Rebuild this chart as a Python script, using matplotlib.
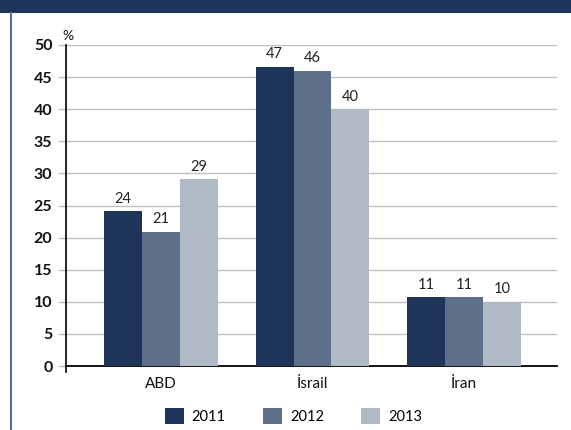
import matplotlib
matplotlib.use("Agg")
import matplotlib.pyplot as plt
from matplotlib.patches import Rectangle, Patch
from matplotlib.lines import Line2D
import numpy as np

plt.rcParams['font.family'] = ['Lato', 'DejaVu Sans']

categories = ["ABD", "İsrail", "İran"]
years = ["2011", "2012", "2013"]
values_2011 = [24.1, 46.6, 10.7]
values_2012 = [20.9, 46.0, 10.7]
values_2013 = [29.1, 40.0, 10.0]
labels_2011 = ["24", "47", "11"]
labels_2012 = ["21", "46", "11"]
labels_2013 = ["29", "40", "10"]
yticks = [0, 5, 10, 15, 20, 25, 30, 35, 40, 45, 50]

colors = ["#1f3459", "#5e6f8a", "#b0b9c6"]
W, H = 571, 430
fig = plt.figure(figsize=(W/100, H/100), dpi=100)

# header band and left border
fig.patches.append(Rectangle((0, (H-13)/H), 1, 13/H, transform=fig.transFigure,
                             facecolor="#1f3459", edgecolor="none", zorder=0))
fig.lines.append(Line2D([10.5/W, 10.5/W], [0, (H-13)/H], transform=fig.transFigure,
                        color="#5a6d92", linewidth=1.5))

ax = fig.add_axes([66/W, (H-366)/H, (557-66)/W, (366-45)/H])
x = np.arange(len(categories))
bw = 0.25
series = [values_2011, values_2012, values_2013]
labs = [labels_2011, labels_2012, labels_2013]
for j, (vals, lb) in enumerate(zip(series, labs)):
    xs = x + (j - 1) * bw
    ax.bar(xs, vals, width=bw, color=colors[j], zorder=3, label=years[j])
    for xi, v, t in zip(xs, vals, lb):
        ax.annotate(t, (xi, v), xytext=(0, 4), textcoords="offset points",
                    ha="center", va="bottom", fontsize=10.5, color="#222222")

ax.set_xlim(-0.627, 2.614)
ax.set_ylim(0, 50)
ax.set_yticks(yticks)
ax.set_yticklabels([str(t) for t in yticks], fontsize=11.5, fontweight="bold", color="#111111")
ax.set_xticks(x)
ax.set_xticklabels(categories, fontsize=11, color="#111111")
ax.tick_params(axis="x", length=0, pad=8)
ax.tick_params(axis="y", length=5.8, width=1, color="#bfbfbf", pad=4)
ax.yaxis.get_major_ticks()[0].tick1line.set_color("black")
ax.grid(axis="y", color="#bfbfbf", linewidth=1, zorder=0)
ax.set_axisbelow(True)
for s in ["top", "right", "left"]:
    ax.spines[s].set_visible(False)
ax.spines["bottom"].set_color("black")
ax.spines["bottom"].set_linewidth(1.3)
ax.add_line(Line2D([0, 0], [-6/321, 1], transform=ax.transAxes, color="black",
                   linewidth=1.2, clip_on=False, zorder=4))
ax.text(-4/491, 1 + 3/321, "%", transform=ax.transAxes, ha="left", va="bottom",
        fontsize=10, color="#111111")

handles = [Patch(facecolor=c, edgecolor="none") for c in colors]
fig.legend(handles, years, loc="center", bbox_to_anchor=(293.5/W, (H-416)/H), ncol=3,
           frameon=False, fontsize=10.5, handlelength=1.3, handleheight=1.25,
           handletextpad=0.55, columnspacing=2.55)

fig.savefig("out.png", dpi=100)
